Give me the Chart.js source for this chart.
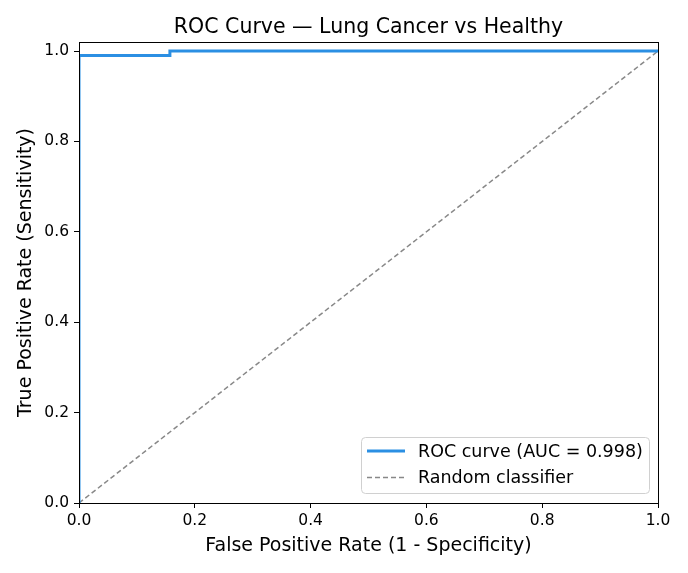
<!DOCTYPE html>
<html>
<head>
<meta charset="utf-8">
<script src="https://cdn.jsdelivr.net/npm/chart.js@4/dist/chart.umd.min.js"></script>
<style>
html,body{margin:0;padding:0;background:#fff;}
#wrap{width:688px;height:573px;}
</style>
</head>
<body>
<div id="wrap"><canvas id="c" width="688" height="573"></canvas></div>
<script>
// Data
const rocFpr = [0, 0, 0.157, 0.157, 1.0];
const rocTpr = [0, 0.99, 0.99, 1.0, 1.0];
const diagFpr = [0, 1];
const diagTpr = [0, 1];
const xTicks = [0, 0.2, 0.4, 0.6, 0.8, 1.0];
const yTicks = [0, 0.2, 0.4, 0.6, 0.8, 1.0];
const rocLabel = 'ROC curve (AUC = 0.998)';
const diagLabel = 'Random classifier';
const titleText = 'ROC Curve — Lung Cancer vs Healthy';
const xLabel = 'False Positive Rate (1 - Specificity)';
const yLabel = 'True Positive Rate (Sensitivity)';

const FONT = "'DejaVu Sans', sans-serif";
const ROC_COLOR = '#2b8fe3';
const DIAG_COLOR = '#888888';

const toPts = (xs, ys) => xs.map((x, i) => ({x: x, y: ys[i]}));

const frameAndLegend = {
  id: 'frameAndLegend',
  afterDatasetsDraw(chart) {
    const {ctx, chartArea: a} = chart;
    ctx.save();
    ctx.strokeStyle = '#000';
    ctx.lineWidth = 1;
    ctx.strokeRect(Math.round(a.left) + 0.5, Math.round(a.top) + 0.5, Math.round(a.right - a.left), Math.round(a.bottom - a.top));
    // title centered over plot area
    ctx.fillStyle = '#000';
    ctx.font = "20.5px " + FONT;
    ctx.textAlign = 'center';
    ctx.textBaseline = 'middle';
    ctx.fillText(titleText, (a.left + a.right) / 2, 27.5);
    // legend
    const bx = 361.5, by = 437.5, bw = 288, bh = 56, r = 4;
    ctx.beginPath();
    ctx.moveTo(bx + r, by);
    ctx.arcTo(bx + bw, by, bx + bw, by + bh, r);
    ctx.arcTo(bx + bw, by + bh, bx, by + bh, r);
    ctx.arcTo(bx, by + bh, bx, by, r);
    ctx.arcTo(bx, by, bx + bw, by, r);
    ctx.closePath();
    ctx.fillStyle = 'rgba(255,255,255,0.8)';
    ctx.fill();
    ctx.strokeStyle = '#d0d0d0';
    ctx.stroke();
    const ds = chart.data.datasets;
    ctx.beginPath();
    ctx.strokeStyle = ds[0].borderColor;
    ctx.lineWidth = ds[0].borderWidth;
    ctx.setLineDash([]);
    ctx.moveTo(367, 451);
    ctx.lineTo(405, 451);
    ctx.stroke();
    ctx.beginPath();
    ctx.strokeStyle = ds[1].borderColor;
    ctx.lineWidth = ds[1].borderWidth;
    ctx.setLineDash(ds[1].borderDash);
    ctx.moveTo(367, 477.5);
    ctx.lineTo(405, 477.5);
    ctx.stroke();
    ctx.setLineDash([]);
    ctx.fillStyle = '#000';
    ctx.font = "17.5px " + FONT;
    ctx.textBaseline = 'middle';
    ctx.textAlign = 'left';
    ctx.fillText(ds[0].label, 418, 452);
    ctx.fillText(ds[1].label, 418, 478);
    ctx.restore();
  }
};

new Chart(document.getElementById('c'), {
  type: 'scatter',
  data: {
    datasets: [
      {
        label: rocLabel,
        data: toPts(rocFpr, rocTpr),
        showLine: true,
        borderColor: ROC_COLOR,
        backgroundColor: ROC_COLOR,
        borderWidth: 3,
        pointRadius: 0,
        fill: false,
        tension: 0,
        clip: 0,
        order: 1
      },
      {
        label: diagLabel,
        data: toPts(diagFpr, diagTpr),
        showLine: true,
        borderColor: DIAG_COLOR,
        borderWidth: 1.5,
        borderDash: [5, 3],
        pointRadius: 0,
        fill: false,
        clip: 0,
        order: 2
      }
    ]
  },
  options: {
    responsive: false,
    animation: false,
    devicePixelRatio: 1,
    layout: {padding: {top: 42, right: 30, left: 0, bottom: 0}},
    plugins: {
      legend: {display: false},
      tooltip: {enabled: false},
      title: {display: false}
    },
    scales: {
      x: {
        type: 'linear',
        min: 0, max: 1,
        afterBuildTicks: (s) => { s.ticks = xTicks.map(v => ({value: v})); },
        afterFit: (s) => { s.height = 70; },
        ticks: {
          color: '#000',
          font: {family: FONT, size: 15.5},
          padding: 4,
          maxRotation: 0,
          callback: (v) => Number(v).toFixed(1)
        },
        grid: {drawOnChartArea: false, drawTicks: true, tickLength: 5, color: '#000', tickWidth: 1},
        border: {display: true, color: '#000', width: 1},
        title: {
          display: true, text: xLabel, color: '#000',
          font: {family: FONT, size: 19, lineHeight: 1.2},
          padding: {top: 0, bottom: 16}
        }
      },
      y: {
        type: 'linear',
        min: 0, max: 1.02,
        afterBuildTicks: (s) => { s.ticks = yTicks.map(v => ({value: v})); },
        afterFit: (s) => { s.width = 79; },
        ticks: {
          color: '#000',
          font: {family: FONT, size: 15.5},
          padding: 5,
          callback: (v) => Number(v).toFixed(1)
        },
        grid: {drawOnChartArea: false, drawTicks: true, tickLength: 5, color: '#000', tickWidth: 1},
        border: {display: true, color: '#000', width: 1},
        title: {
          display: true, text: yLabel, color: '#000',
          font: {family: FONT, size: 19, lineHeight: 1.2},
          padding: {top: 15, bottom: 0}
        }
      }
    }
  },
  plugins: [frameAndLegend]
});
</script>
</body>
</html>
